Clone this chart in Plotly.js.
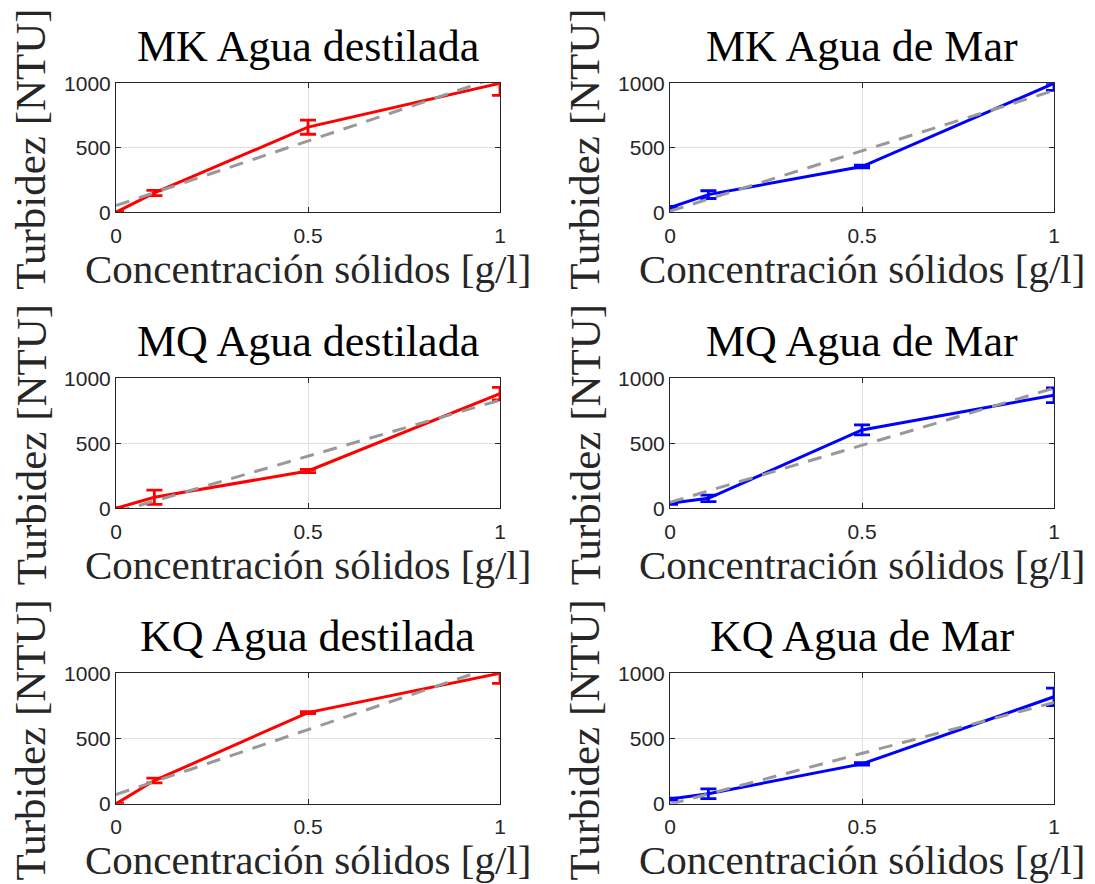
<!DOCTYPE html>
<html><head><meta charset="utf-8">
<script src="https://cdn.plot.ly/plotly-3.0.1.min.js"></script>
<style>html,body{margin:0;padding:0;background:#fff}#chart{width:1095px;height:884px}</style>
</head><body><div id="chart"></div>
<script>
// ---------- data ----------
const concentration = [0, 0.1, 0.5, 1];
const xTickVals = [0, 0.5, 1];
const xTickText = ['0', '0.5', '1'];
const yTickVals = [0, 500, 1000];
const yTickText = ['0', '500', '1000'];
const panelTitles = ['MK Agua destilada', 'MK Agua de Mar', 'MQ Agua destilada', 'MQ Agua de Mar', 'KQ Agua destilada', 'KQ Agua de Mar'];
const xLabel = 'Concentración sólidos [g/l]';
const yLabel = 'Turbidez [NTU]';

const mkDestilada = [0, 150, 660, 1000];
const mkDestiladaErrUp = [5, 20, 55, 0];
const mkDestiladaErrDown = [5, 20, 55, 93];

const mkMar = [37, 137, 355, 1000];
const mkMarErrUp = [8, 30, 10, 0];
const mkMarErrDown = [8, 30, 10, 55];

const mqDestilada = [0, 85, 287, 882];
const mqDestiladaErrUp = [5, 55, 12, 48];
const mqDestiladaErrDown = [5, 55, 12, 48];

const mqMar = [38, 77, 603, 870];
const mqMarErrUp = [8, 25, 38, 57];
const mqMarErrDown = [8, 25, 38, 57];

const kqDestilada = [0, 178, 699, 1000];
const kqDestiladaErrUp = [5, 18, 8, 0];
const kqDestiladaErrDown = [5, 18, 8, 77];

const kqMar = [36, 77, 306, 820];
const kqMarErrUp = [8, 38, 10, 67];
const kqMarErrDown = [8, 38, 10, 67];

// linear trend line (dashed grey), value at x=0 and x=1 for each panel
const fitAtZero = [52, 9, -30, 46, 71, -3];
const fitAtOne = [1054, 944, 832, 924, 1066, 776];

// ---------- build ----------
const series = [
  [mkDestilada, mkDestiladaErrUp, mkDestiladaErrDown],
  [mkMar, mkMarErrUp, mkMarErrDown],
  [mqDestilada, mqDestiladaErrUp, mqDestiladaErrDown],
  [mqMar, mqMarErrUp, mqMarErrDown],
  [kqDestilada, kqDestiladaErrUp, kqDestiladaErrDown],
  [kqMar, kqMarErrUp, kqMarErrDown]
];
const W = 1095, H = 884;
const cols = [[116, 500], [670, 1054]];
const rows = [[83.3, 212.3], [378.3, 508.3], [673.3, 803.8]];
const lineColors = ['#ff0000', '#0000ff'];
const px = v => v / W;
const py = v => 1 - v / H;

const traces = [];
const layout = {
  width: W, height: H,
  margin: {l: 0, r: 0, t: 0, b: 0},
  paper_bgcolor: '#ffffff', plot_bgcolor: '#ffffff',
  showlegend: false,
  annotations: []
};
const serif = 'Liberation Serif, Times New Roman, serif';

for (let i = 0; i < 6; i++) {
  const r = Math.floor(i / 2), c = i % 2;
  const n = i + 1;
  const xa = 'x' + (n === 1 ? '' : n), ya = 'y' + (n === 1 ? '' : n);
  const color = lineColors[c];
  const [vals, up, dn] = series[i];
  traces.push({
    x: concentration, y: vals, xaxis: xa, yaxis: ya,
    type: 'scatter', mode: 'lines', cliponaxis: false,
    line: {color: color, width: 3},
    error_y: {type: 'data', symmetric: false, array: up, arrayminus: dn,
              color: color, thickness: 2.8, width: 8}
  });
  traces.push({
    x: [0, 1], y: [fitAtZero[i], fitAtOne[i]], xaxis: xa, yaxis: ya,
    type: 'scatter', mode: 'lines',
    line: {color: '#999999', width: 3, dash: '14px,10px'}
  });
  const axCommon = {
    showline: true, linecolor: '#262626', linewidth: 1, mirror: 'ticks',
    ticks: 'inside', ticklen: 5, tickwidth: 1, tickcolor: '#262626',
    showgrid: true, gridcolor: '#dfdfdf', gridwidth: 1, zeroline: false,
    tickfont: {family: 'Liberation Sans, Arial, sans-serif', size: 21, color: '#262626'},
    tickmode: 'array', fixedrange: true
  };
  layout['xaxis' + (n === 1 ? '' : n)] = Object.assign({}, axCommon, {
    domain: [px(cols[c][0]), px(cols[c][1])], anchor: ya,
    range: [0, 1], tickvals: xTickVals, ticktext: xTickText, ticklabelstandoff: 4
  });
  layout['yaxis' + (n === 1 ? '' : n)] = Object.assign({}, axCommon, {
    domain: [py(rows[r][1]), py(rows[r][0])], anchor: xa,
    range: [0, 1000], tickvals: yTickVals, ticktext: yTickText, ticklabelstandoff: 0
  });
  const cx = (cols[c][0] + cols[c][1]) / 2;
  const cy = (rows[r][0] + rows[r][1]) / 2;
  layout.annotations.push({
    text: panelTitles[i], xref: 'paper', yref: 'paper',
    x: px(cx), y: py(rows[r][0] - 36.5), xanchor: 'center', yanchor: 'middle',
    showarrow: false, font: {family: serif, size: 44, color: '#000000'}
  });
  layout.annotations.push({
    text: xLabel, xref: 'paper', yref: 'paper',
    x: px(cx), y: py(rows[r][1] + 56.5), xanchor: 'center', yanchor: 'middle',
    showarrow: false, font: {family: serif, size: 41, color: '#262626'}
  });
  layout.annotations.push({
    text: yLabel, xref: 'paper', yref: 'paper', textangle: -90,
    x: px(cols[c][0] - 85), y: py(cy + 2), xanchor: 'center', yanchor: 'middle',
    showarrow: false, font: {family: serif, size: 43, color: '#262626'}
  });
}

Plotly.newPlot('chart', traces, layout, {staticPlot: true, displayModeBar: false});
</script>
</body></html>
